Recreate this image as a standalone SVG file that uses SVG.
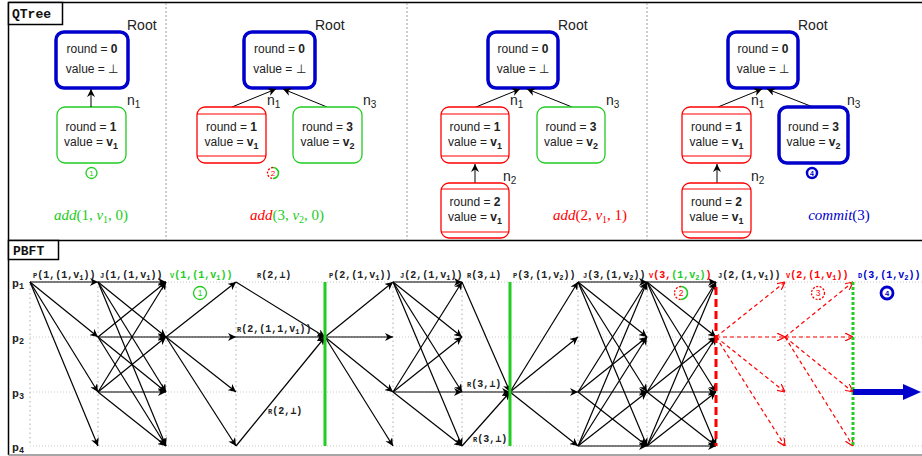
<svg xmlns="http://www.w3.org/2000/svg" width="922" height="456" viewBox="0 0 922 456">
<defs>
<style>
.frame{stroke:#000;stroke-width:1.5;fill:none}
.div{stroke:#999;stroke-width:1;stroke-dasharray:2,2;fill:none}
.grid{stroke:#ccc;stroke-width:1;stroke-dasharray:1,2;fill:none}
.col{stroke:#bbb;stroke-width:1.2;stroke-dasharray:1.5,3;fill:none}
.nt{font-family:"Liberation Sans",Arial,sans-serif;font-size:12px;fill:#222;text-anchor:middle}
.lbl{font-family:"Liberation Sans",Arial,sans-serif;font-size:14px;fill:#222}
.math{font-family:"Liberation Serif","Times New Roman",serif;font-size:15px;text-anchor:middle}
.mono{font-family:"Liberation Mono","Courier New",monospace;font-weight:bold;font-size:10px;fill:#222}
.plbl{font-family:"Liberation Mono","Courier New",monospace;font-weight:bold;font-size:11.5px;fill:#222}
.box{font-family:"Liberation Mono","Courier New",monospace;font-weight:bold;font-size:13px;fill:#111}
.root{fill:#fff;stroke:#0000cc;stroke-width:3.5}
.gnode{fill:#fff;stroke:#22cc22;stroke-width:1.3}
.rnode{fill:#fff;stroke:#ff0000;stroke-width:1.3}
.bnode{fill:#fff;stroke:#0000cc;stroke-width:3.5}
.msg path{stroke:#000;stroke-width:1.2;fill:none;marker-end:url(#ah)}
.rmsg path{stroke:#ff0000;stroke-width:1.2;fill:none;stroke-dasharray:4,3;marker-end:url(#rah)}
.tarr{stroke:#000;stroke-width:1;fill:none;marker-end:url(#ah)}
</style>
<marker id="ah" viewBox="0 0 10 10" refX="10" refY="5" markerWidth="8" markerHeight="8" markerUnits="userSpaceOnUse" orient="auto"><path d="M0 0L10 5L0 10L3 5Z" fill="#000"/></marker>
<marker id="rah" viewBox="0 0 10 10" refX="10" refY="5" markerWidth="8" markerHeight="8" markerUnits="userSpaceOnUse" orient="auto"><path d="M0 0L10 5L0 10" fill="none" stroke="#ff0000" stroke-width="1.5"/></marker>
</defs>
<rect width="922" height="456" fill="#fff"/>

<!-- frame -->
<g id="frame">
<path class="frame" d="M8.5 2.5H922M8.5 2.5V455M8.5 240.5H922"/>
<path d="M8.5 455H922" stroke="#888" stroke-width="1.5"/>
<path class="div" d="M166 3V240M407 3V240M647 3V240"/>
<rect x="8.5" y="2.5" width="54" height="22" fill="#fff" stroke="#000" stroke-width="1.5"/>
<text class="box" x="12" y="18">QTree</text>
<rect x="8.5" y="240.5" width="50" height="19" fill="#fff" stroke="#000" stroke-width="1.5"/>
<text class="box" x="13" y="255">PBFT</text>
</g>

<!-- QTree panel 1 -->
<g id="q1">
<rect class="root" x="56" y="32" width="72" height="56" rx="8"/>
<text class="nt" x="92" y="53">round = <tspan font-weight="bold">0</tspan></text>
<text class="nt" x="92" y="73">value = ⊥</text>
<text class="lbl" x="127" y="30">Root</text>
<rect class="gnode" x="57" y="107" width="69" height="56" rx="8"/>
<text class="nt" x="91" y="131">round = <tspan font-weight="bold">1</tspan></text>
<text class="nt" x="91" y="146">value = <tspan font-weight="bold">v</tspan><tspan font-weight="bold" font-size="9" dy="3">1</tspan></text>
<text class="lbl" x="127" y="105">n<tspan font-size="10" dy="3">1</tspan></text>
<path class="tarr" d="M91 107V89"/>
<circle cx="91.5" cy="173" r="5.5" fill="#fff" stroke="#22cc22" stroke-width="1.3"/>
<text x="91.5" y="176" font-family="Liberation Sans,Arial,sans-serif" font-size="8" fill="#22cc22" text-anchor="middle">1</text>
<text class="math" x="91" y="220" fill="#22cc22"><tspan font-style="italic">add</tspan>(1, <tspan font-style="italic">v</tspan><tspan font-size="10" dy="3">1</tspan><tspan dy="-3">, 0)</tspan></text>
</g>

<!-- QTree panel 2 -->
<g id="q2">
<rect class="root" x="244" y="32" width="71" height="56" rx="8"/>
<text class="nt" x="279.5" y="53">round = <tspan font-weight="bold">0</tspan></text>
<text class="nt" x="279.5" y="73">value = ⊥</text>
<text class="lbl" x="315" y="30">Root</text>
<path class="tarr" d="M232 107L276 89"/>
<path class="tarr" d="M327 107L283 89"/>
<rect class="rnode" x="197" y="107" width="69" height="56" rx="8"/>
<path d="M197 114H266M197 156H266" stroke="#ff0000" stroke-width="1.2"/>
<text class="nt" x="231.5" y="131">round = <tspan font-weight="bold">1</tspan></text>
<text class="nt" x="231.5" y="146">value = <tspan font-weight="bold">v</tspan><tspan font-weight="bold" font-size="9" dy="3">1</tspan></text>
<rect class="gnode" x="293" y="107" width="69" height="56" rx="8"/>
<text class="nt" x="327.5" y="131">round = <tspan font-weight="bold">3</tspan></text>
<text class="nt" x="327.5" y="146">value = <tspan font-weight="bold">v</tspan><tspan font-weight="bold" font-size="9" dy="3">2</tspan></text>
<text class="lbl" x="267" y="105">n<tspan font-size="10" dy="3">1</tspan></text>
<text class="lbl" x="363" y="105">n<tspan font-size="10" dy="3">3</tspan></text>
<path d="M273 167.5A5.5 5.5 0 0 0 273 178.5" fill="none" stroke="#ff0000" stroke-width="1.3" stroke-dasharray="2,1.5"/>
<path d="M273 167.5A5.5 5.5 0 0 1 273 178.5" fill="none" stroke="#22cc22" stroke-width="1.6"/>
<text x="273" y="176" font-family="Liberation Sans,Arial,sans-serif" font-size="8" fill="#ff0000" text-anchor="middle">2</text>
<text class="math" x="287" y="220"><tspan fill="#ff0000" font-style="italic">add</tspan><tspan fill="#22cc22">(3, </tspan><tspan fill="#22cc22" font-style="italic">v</tspan><tspan fill="#22cc22" font-size="10" dy="3">2</tspan><tspan fill="#22cc22" dy="-3">, 0)</tspan></text>
</g>

<!-- QTree panel 3 -->
<g id="q3">
<rect class="root" x="488" y="32" width="70" height="56" rx="8"/>
<text class="nt" x="523" y="53">round = <tspan font-weight="bold">0</tspan></text>
<text class="nt" x="523" y="73">value = ⊥</text>
<text class="lbl" x="558" y="30">Root</text>
<path class="tarr" d="M476 107L520 89"/>
<path class="tarr" d="M572 107L527 89"/>
<rect class="rnode" x="441" y="107" width="68" height="56" rx="8"/>
<path d="M441 114H509M441 156H509" stroke="#ff0000" stroke-width="1.2"/>
<text class="nt" x="475" y="131">round = <tspan font-weight="bold">1</tspan></text>
<text class="nt" x="475" y="146">value = <tspan font-weight="bold">v</tspan><tspan font-weight="bold" font-size="9" dy="3">1</tspan></text>
<rect class="gnode" x="537" y="107" width="68" height="56" rx="8"/>
<text class="nt" x="571" y="131">round = <tspan font-weight="bold">3</tspan></text>
<text class="nt" x="571" y="146">value = <tspan font-weight="bold">v</tspan><tspan font-weight="bold" font-size="9" dy="3">2</tspan></text>
<path class="tarr" d="M475 183V164"/>
<rect class="rnode" x="441" y="183" width="68" height="55" rx="8"/>
<path d="M441 189H509M441 232H509" stroke="#ff0000" stroke-width="1.2"/>
<text class="nt" x="475" y="206">round = <tspan font-weight="bold">2</tspan></text>
<text class="nt" x="475" y="221">value = <tspan font-weight="bold">v</tspan><tspan font-weight="bold" font-size="9" dy="3">1</tspan></text>
<text class="lbl" x="510" y="105">n<tspan font-size="10" dy="3">1</tspan></text>
<text class="lbl" x="606" y="105">n<tspan font-size="10" dy="3">3</tspan></text>
<text class="lbl" x="503" y="181">n<tspan font-size="10" dy="3">2</tspan></text>
<text class="math" x="590" y="220" fill="#ff0000"><tspan font-style="italic">add</tspan>(2, <tspan font-style="italic">v</tspan><tspan font-size="10" dy="3">1</tspan><tspan dy="-3">, 1)</tspan></text>
</g>

<!-- QTree panel 4 -->
<g id="q4">
<rect class="root" x="728" y="32" width="70" height="56" rx="8"/>
<text class="nt" x="763" y="53">round = <tspan font-weight="bold">0</tspan></text>
<text class="nt" x="763" y="73">value = ⊥</text>
<text class="lbl" x="798" y="30">Root</text>
<path class="tarr" d="M718 107L762 89"/>
<path class="tarr" d="M813 107L767 89"/>
<rect class="rnode" x="682" y="107" width="69" height="56" rx="8"/>
<path d="M682 114H751M682 156H751" stroke="#ff0000" stroke-width="1.2"/>
<text class="nt" x="716.5" y="131">round = <tspan font-weight="bold">1</tspan></text>
<text class="nt" x="716.5" y="146">value = <tspan font-weight="bold">v</tspan><tspan font-weight="bold" font-size="9" dy="3">1</tspan></text>
<rect class="bnode" x="779" y="107" width="69" height="56" rx="8"/>
<text class="nt" x="813.5" y="131">round = <tspan font-weight="bold">3</tspan></text>
<text class="nt" x="813.5" y="146">value = <tspan font-weight="bold">v</tspan><tspan font-weight="bold" font-size="9" dy="3">2</tspan></text>
<path class="tarr" d="M717 183V164"/>
<rect class="rnode" x="682" y="183" width="69" height="55" rx="8"/>
<path d="M682 189H751M682 232H751" stroke="#ff0000" stroke-width="1.2"/>
<text class="nt" x="716.5" y="206">round = <tspan font-weight="bold">2</tspan></text>
<text class="nt" x="716.5" y="221">value = <tspan font-weight="bold">v</tspan><tspan font-weight="bold" font-size="9" dy="3">1</tspan></text>
<text class="lbl" x="751" y="105">n<tspan font-size="10" dy="3">1</tspan></text>
<text class="lbl" x="847" y="105">n<tspan font-size="10" dy="3">3</tspan></text>
<text class="lbl" x="751" y="181">n<tspan font-size="10" dy="3">2</tspan></text>
<circle cx="812" cy="173" r="5" fill="#fff" stroke="#0000cc" stroke-width="2.5"/>
<text x="812" y="176" font-family="Liberation Sans,Arial,sans-serif" font-size="7" font-weight="bold" fill="#0000cc" text-anchor="middle">4</text>
<text class="math" x="839" y="220" fill="#0000cc"><tspan font-style="italic">commit</tspan>(3)</text>
</g>

<!-- PBFT grid -->
<g id="grid">
<path class="grid" d="M30 282H922M30 337H922M30 392H922M30 446H922"/>
<path class="col" d="M30 284V446M98 282V446M166 282V446M236 282V446M393 282V446M462 282V446M578 282V446M647 282V446M785 282V446"/>
</g>

<g id="processes">
<text class="plbl" x="12" y="287">p<tspan font-size="8.5" dy="2">1</tspan></text>
<text class="plbl" x="12" y="342">p<tspan font-size="8.5" dy="2">2</tspan></text>
<text class="plbl" x="12" y="397">p<tspan font-size="8.5" dy="2">3</tspan></text>
<text class="plbl" x="12" y="451">p<tspan font-size="8.5" dy="2">4</tspan></text>
</g>

<!-- connectors -->
<g id="connectors">
<g class="msg">
<path d="M30 282L98 282"/><path d="M30 282L98 337"/><path d="M30 282L98 392"/><path d="M30 282L98 446"/>
<path d="M98 282L166 282"/><path d="M98 282L166 337"/><path d="M98 282L166 392"/><path d="M98 282L166 446"/>
<path d="M98 337L166 282"/><path d="M98 337L166 337"/><path d="M98 337L166 392"/><path d="M98 337L166 446"/>
<path d="M98 392L166 282"/><path d="M98 392L166 337"/><path d="M98 392L166 392"/><path d="M98 392L166 446"/>
<path d="M166 337L236 282"/><path d="M166 337L236 337"/><path d="M166 337L236 392"/><path d="M166 337L236 446"/>
<path d="M236 282L325 337"/><path d="M236 337L325 337"/><path d="M236 446L325 337"/>
<path d="M325 337L393 282"/><path d="M325 337L393 337"/><path d="M325 337L393 392"/><path d="M325 337L393 446"/>
<path d="M393 282L462 282"/><path d="M393 282L462 337"/><path d="M393 282L462 392"/><path d="M393 282L462 446"/>
<path d="M393 392L462 282"/><path d="M393 392L462 337"/><path d="M393 392L462 392"/><path d="M393 392L462 446"/>
<path d="M462 282L510 392"/><path d="M462 392L510 392"/><path d="M462 446L510 392"/>
<path d="M510 392L578 282"/><path d="M510 392L578 337"/><path d="M510 392L578 392"/><path d="M510 392L578 446"/>
<path d="M578 282L647 282"/><path d="M578 282L647 337"/><path d="M578 282L647 392"/><path d="M578 282L647 446"/>
<path d="M578 392L647 282"/><path d="M578 392L647 337"/><path d="M578 392L647 392"/><path d="M578 392L647 446"/>
<path d="M578 446L647 282"/><path d="M578 446L647 337"/><path d="M578 446L647 392"/><path d="M578 446L647 446"/>
<path d="M647 282L716 282"/><path d="M647 282L716 337"/><path d="M647 282L716 392"/><path d="M647 282L716 446"/>
<path d="M647 392L716 282"/><path d="M647 392L716 337"/><path d="M647 392L716 392"/><path d="M647 392L716 446"/>
<path d="M647 446L716 282"/><path d="M647 446L716 337"/><path d="M647 446L716 392"/><path d="M647 446L716 446"/>
</g>
<g class="rmsg">
<path d="M716 337L785 282"/><path d="M716 337L785 337"/><path d="M716 337L785 392"/><path d="M716 337L785 446"/>
<path d="M785 337L853 282"/><path d="M785 337L853 337"/><path d="M785 337L853 392"/><path d="M785 337L853 446"/>
</g>
<path d="M325 282V446M510 282V446" stroke="#22cc22" stroke-width="3"/>
<path d="M716 287V446" stroke="#ff0000" stroke-width="3" stroke-dasharray="8,4"/>
<path d="M853 282V446" stroke="#22cc22" stroke-width="3" stroke-dasharray="3,2"/>
<path d="M853 392H905" stroke="#0000cc" stroke-width="6"/>
<polygon points="903,384 921,392 903,400" fill="#0000cc"/>
</g>

<!-- message labels -->
<g id="labels">
<text class="mono" x="33" y="278"><tspan font-size="7">P</tspan>(1,(1,v<tspan font-size="7" dy="2">1</tspan><tspan dy="-2">))</tspan></text>
<text class="mono" x="100" y="278"><tspan font-size="7">J</tspan>(1,(1,v<tspan font-size="7" dy="2">1</tspan><tspan dy="-2">))</tspan></text>
<text class="mono" x="170" y="278" style="fill:#22cc22"><tspan font-size="7">V</tspan>(1,(1,v<tspan font-size="7" dy="2">1</tspan><tspan dy="-2">))</tspan></text>
<text class="mono" x="257" y="278"><tspan font-size="7">R</tspan>(2,⊥)</text>
<text class="mono" x="329" y="278"><tspan font-size="7">P</tspan>(2,(1,v<tspan font-size="7" dy="2">1</tspan><tspan dy="-2">))</tspan></text>
<text class="mono" x="400" y="278"><tspan font-size="7">J</tspan>(2,(1,v<tspan font-size="7" dy="2">1</tspan><tspan dy="-2">))</tspan></text>
<text class="mono" x="467" y="278"><tspan font-size="7">R</tspan>(3,⊥)</text>
<text class="mono" x="513" y="278"><tspan font-size="7">P</tspan>(3,(1,v<tspan font-size="7" dy="2">2</tspan><tspan dy="-2">))</tspan></text>
<text class="mono" x="583" y="278"><tspan font-size="7">J</tspan>(3,(1,v<tspan font-size="7" dy="2">2</tspan><tspan dy="-2">))</tspan></text>
<text class="mono" x="649" y="278"><tspan font-size="7" style="fill:#ff0000">V</tspan><tspan style="fill:#ff0000">(3,</tspan><tspan style="fill:#22cc22">(1,v</tspan><tspan font-size="7" dy="2" style="fill:#22cc22">2</tspan><tspan dy="-2" style="fill:#22cc22">)</tspan><tspan style="fill:#ff0000">)</tspan></text>
<text class="mono" x="718" y="278"><tspan font-size="7">J</tspan>(2,(1,v<tspan font-size="7" dy="2">1</tspan><tspan dy="-2">))</tspan></text>
<text class="mono" x="786" y="278" style="fill:#ff0000"><tspan font-size="7">V</tspan>(2,(1,v<tspan font-size="7" dy="2">1</tspan><tspan dy="-2">))</tspan></text>
<text class="mono" x="858" y="278" style="fill:#0000cc"><tspan font-size="7">D</tspan>(3,(1,v<tspan font-size="7" dy="2">2</tspan><tspan dy="-2">))</tspan></text>
<text class="mono" x="237" y="332"><tspan font-size="7">R</tspan>(2,(1,1,v<tspan font-size="7" dy="2">1</tspan><tspan dy="-2">))</tspan></text>
<text class="mono" x="268" y="414"><tspan font-size="7">R</tspan>(2,⊥)</text>
<text class="mono" x="467" y="387"><tspan font-size="7">R</tspan>(3,⊥)</text>
<text class="mono" x="473" y="442"><tspan font-size="7">R</tspan>(3,⊥)</text>
</g>

<g id="markers">
<circle cx="200" cy="293" r="6.5" fill="#fff" stroke="#22cc22" stroke-width="1.3"/>
<text x="200" y="296" font-family="Liberation Sans,Arial,sans-serif" font-size="8.5" fill="#22cc22" text-anchor="middle">1</text>
<path d="M681 286.5A6.5 6.5 0 0 0 681 299.5" fill="none" stroke="#ff0000" stroke-width="1.3" stroke-dasharray="2,1.5"/>
<path d="M681 286.5A6.5 6.5 0 0 1 681 299.5" fill="none" stroke="#22cc22" stroke-width="1.6"/>
<text x="681" y="296" font-family="Liberation Sans,Arial,sans-serif" font-size="8.5" fill="#ff0000" text-anchor="middle">2</text>
<circle cx="818" cy="293" r="6.5" fill="#fff" stroke="#ff0000" stroke-width="1.3" stroke-dasharray="2,1.5"/>
<text x="818" y="296" font-family="Liberation Sans,Arial,sans-serif" font-size="8.5" fill="#ff0000" text-anchor="middle">3</text>
<circle cx="887" cy="293" r="6" fill="#fff" stroke="#0000cc" stroke-width="2.8"/>
<text x="887" y="296" font-family="Liberation Sans,Arial,sans-serif" font-size="7.5" font-weight="bold" fill="#0000cc" text-anchor="middle">4</text>
</g>
</svg>
